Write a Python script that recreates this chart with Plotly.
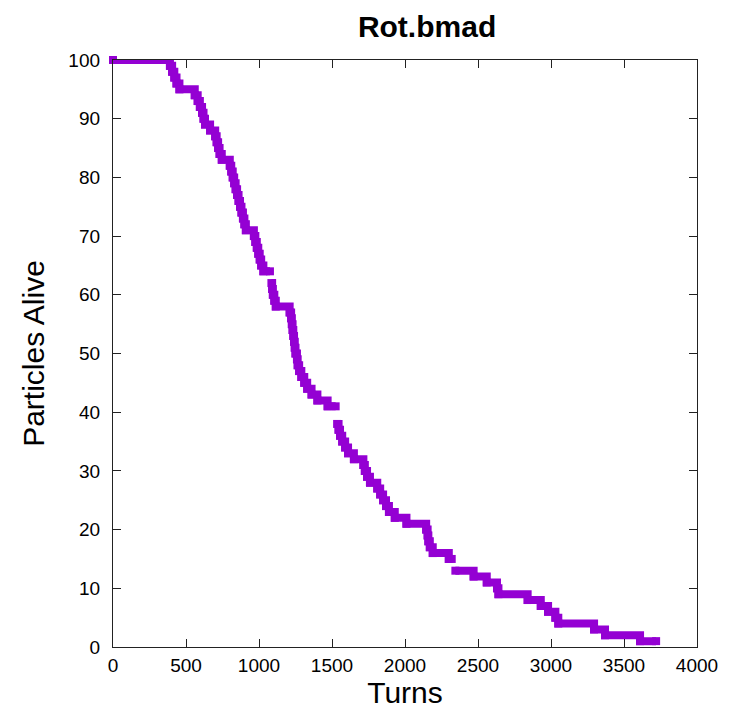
import plotly.graph_objects as go

# Step data: turn at which the surviving-particle count changes (None = gap in the plotted points)
turns = [0, 390, 405, 420, 435, 455, 560, 580, 595, 610, 620, 630, 665, 700, 710, 720, 730, 745,
         800, 810, 820, 830, 840, 850, 860, 870, 880, 890, 900, 910, 965, 975, 985, 995, 1005, 1015,
         1030, 1075, None,
         1085, 1090, 1095, 1105, 1115, 1210, 1220, 1225, 1230, 1235, 1240, 1245, 1250, 1260, 1265,
         1275, 1290, 1310, 1330, 1360, 1400, 1470, 1525, None,
         1535, 1545, 1555, 1570, 1590, 1610, 1650, 1715, 1725, 1740, 1760, 1810, 1830, 1850, 1870,
         1890, 1930, 2010, 2145, 2155, 2160, 2170, 2190, 2300, 2320, None,
         2345, 2470, 2560, 2630, 2640, 2840, 2930, 2980, 3030, 3050, 3295, 3370, 3610, 3720]
alive = [100, 99, 98, 97, 96, 95, 94, 93, 92, 91, 90, 89, 88, 87, 86, 85, 84, 83,
         82, 81, 80, 79, 78, 77, 76, 75, 74, 73, 72, 71, 70, 69, 68, 67, 66, 65,
         64, 64, None,
         62, 61, 60, 59, 58, 57, 56, 55, 54, 53, 52, 51, 50, 49, 48,
         47, 46, 45, 44, 43, 42, 41, 41, None,
         38, 37, 36, 35, 34, 33, 32, 31, 30, 29, 28, 27, 26, 25, 24,
         23, 22, 21, 20, 19, 18, 17, 16, 15, 15, None,
         13, 12, 11, 10, 9, 8, 7, 6, 5, 4, 3, 2, 1, 1]

x_ticks = [0, 500, 1000, 1500, 2000, 2500, 3000, 3500, 4000]
y_ticks = [0, 10, 20, 30, 40, 50, 60, 70, 80, 90, 100]

color = "#9400d3"
font_family = "Liberation Sans, Arial, sans-serif"

fig = go.Figure()
fig.add_trace(go.Scatter(
    x=turns, y=alive, mode="lines+markers",
    line=dict(color=color, width=8, shape="hv"),
    marker=dict(symbol="square", size=8, color=color, line=dict(width=0)),
    connectgaps=False, cliponaxis=False, showlegend=False,
))

axis_common = dict(
    showline=True, linecolor="#222222", linewidth=1.3, mirror="allticks",
    ticks="inside", ticklen=8, tickcolor="#222222", tickwidth=1.3,
    showgrid=False, zeroline=False, automargin=False,
    tickfont=dict(family=font_family, size=19, color="black"),
)

fig.update_layout(
    width=730, height=709,
    margin=dict(l=113, r=33, t=60, b=62),
    paper_bgcolor="white", plot_bgcolor="white",
    title=dict(text="<b>Rot.bmad</b>", x=0.585, xanchor="center", y=0.962, yanchor="middle",
               font=dict(family=font_family, size=30, color="black")),
    xaxis=dict(range=[0, 4000], tickvals=x_ticks, ticktext=[str(v) for v in x_ticks],
               ticklabelstandoff=1,
               title=dict(text="Turns", standoff=6,
                          font=dict(family=font_family, size=30, color="black")),
               **axis_common),
    yaxis=dict(range=[0, 100], tickvals=y_ticks, ticktext=[str(v) for v in y_ticks],
               ticklabelstandoff=8,
               title=dict(text="Particles Alive", standoff=14,
                          font=dict(family=font_family, size=30, color="black")),
               **axis_common),
)

fig.write_html("out.html")
